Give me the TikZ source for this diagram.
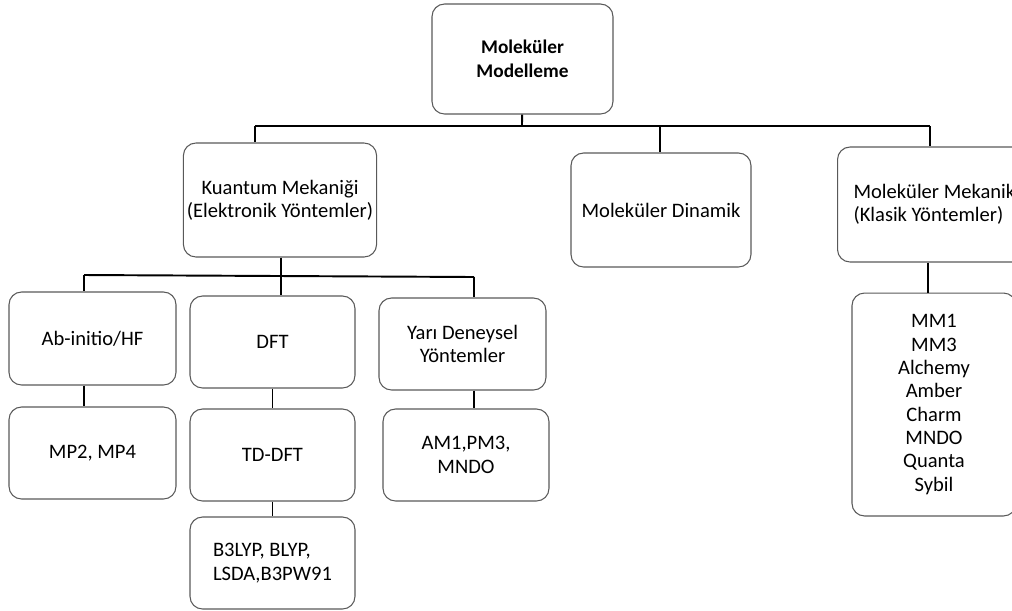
\documentclass[tikz,border=0pt]{standalone}
\usepackage{fontspec}
\setmainfont{Carlito}

\tikzset{
  box/.style={draw=black!65, line width=0.6pt, rounded corners=0.25cm, align=center, inner sep=2pt,
    font=\fontsize{11.7}{13.3}\selectfont},
  conn/.style={draw=black, line width=1.1pt},
}

\begin{document}
\begin{tikzpicture}[x=0.02cm,y=-0.02cm]
\clip (0,0) rectangle (1012,610);

%top
\node[box, minimum width=3.62cm, minimum height=2.2cm, font=\bfseries\fontsize{11}{13.5}\selectfont] (root) at (522.5,59) {Moleküler\\Modelleme};

\node[box, minimum width=3.64cm, minimum height=2.28cm] (kuantum) at (280,200) {Kuantum Mekaniği\\(Elektronik Yöntemler)};
\node[box, minimum width=3.6cm, minimum height=2.28cm] (dinamik) at (661,210) {Moleküler Dinamik};
\node[box, anchor=west, align=left, inner xsep=0.32cm, minimum height=2.3cm] (mekanik) at (837,204.5) {Moleküler Mekanik\\(Klasik Yöntemler)};

\coordinate (b1) at (522,126);
\coordinate (b1l) at (255,126);
\coordinate (b1m) at (660,126);
\coordinate (b1r) at (930,126);
\draw[conn] (b1l) -- (b1r);
\draw[conn] (root) -- (b1);
\draw[conn] (b1l) -- (b1l |- kuantum.north);
\draw[conn] (b1m) -- (b1m |- dinamik.north);
\draw[conn] (b1r) -- (b1r |- mekanik.north);

%left
\node[box, minimum width=3.34cm, minimum height=1.86cm] (abinitio) at (92.5,338.5) {Ab-initio/HF};
\node[box, minimum width=3.3cm, minimum height=1.84cm] (dft) at (272.5,342) {DFT};
\node[box, minimum width=3.34cm, minimum height=1.84cm] (yari) at (462.5,344) {Yarı Deneysel\\Yöntemler};

\node[box, minimum width=3.34cm, minimum height=1.84cm] (mp) at (92.5,453) {MP2, MP4};
\node[box, minimum width=3.3cm, minimum height=1.84cm] (tddft) at (272.5,455) {TD-DFT};
\node[box, minimum width=3.3cm, minimum height=1.84cm, align=left] (b3) at (272.5,563) {B3LYP, BLYP,\\LSDA,B3PW91};
\node[box, minimum width=3.32cm, minimum height=1.84cm] (am) at (466,455) {AM1,PM3,\\MNDO};

\coordinate (b2l) at (84,275);
\coordinate (b2m) at (281,276);
\coordinate (b2r) at (474,277);
\draw[conn] (b2l) -- (b2r);
\draw[conn] (b2m |- kuantum.south) -- (b2m);
\draw[conn] (b2l) -- (b2l |- abinitio.north);
\draw[conn] (b2m) -- (b2m |- dft.north);
\draw[conn] (b2r) -- (b2r |- yari.north);

\draw[conn] (abinitio.south -| b2l) -- (mp.north -| b2l);
\draw[conn] (dft) -- (tddft);
\draw[conn] (tddft) -- (b3);
\draw[conn] (yari.south -| b2r) -- (am.north -| b2r);

%right
\node[box, minimum width=3.28cm, minimum height=4.46cm] (mm) at (934,404.5) {MM1\\MM3\\Alchemy\\Amber\\Charm\\MNDO\\Quanta\\Sybil};
\draw[conn] ([xshift=-0.04cm]mekanik.south -| b1r) -- ([xshift=-0.04cm]mm.north -| b1r);

\end{tikzpicture}
\end{document}
